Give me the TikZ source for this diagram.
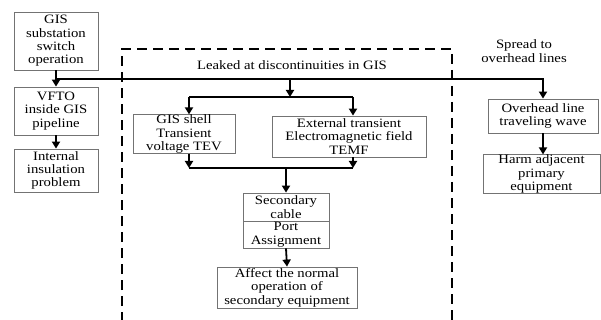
\documentclass[tikz,border=0pt]{standalone}
\usepackage{fontspec}
\setmainfont{Liberation Serif}[FakeStretch=1.15]
\usetikzlibrary{arrows.meta}
\begin{document}
\begin{tikzpicture}[x=1pt,y=-1pt,
  box/.style={draw=black!55, line width=0.8pt, align=center, inner sep=0pt, font=\fontsize{12.8}{13.4}\selectfont},
  conn/.style={line width=1.8pt},
  arr/.style={conn, -{Triangle[length=7pt,width=8pt]}},
  lbl/.style={align=center, font=\fontsize{12.8}{13.4}\selectfont}]
\useasboundingbox (0,0) rectangle (601,320);
\node[box, minimum width=84, minimum height=58] (b1) at (56,41) {GIS\\substation\\switch\\operation};
\node[box, minimum width=84, minimum height=48] (b2) at (56,111) {VFTO\\inside GIS\\pipeline};
\node[box, minimum width=84, minimum height=43] (b3) at (56,170.5) {Internal\\insulation\\problem};
\node[box, minimum width=102, minimum height=36] (tev) at (184,134) {GIS shell\\Transient\\voltage TEV};
\node[box, minimum width=154, minimum height=41] (temf) at (349,136.5) {External transient\\Electromagnetic field\\TEMF};
\node[box, minimum width=86, minimum height=28] (sec) at (286,207) {Secondary\\cable};
\node[box, minimum width=86, minimum height=27] (port) at (286,234.5) {Port\\Assignment};
\node[box, minimum width=140, minimum height=41] (aff) at (287,287.5) {Affect the normal\\operation of\\secondary equipment};
\node[box, minimum width=110, minimum height=34] (ohl) at (543,116) {Overhead line\\traveling wave};
\node[box, minimum width=117, minimum height=32] (harm) at (541.5,174) {Harm adjacent\\primary\\equipment};
\node[lbl] (leak) at (292,65) {Leaked at discontinuities in GIS};
\node[lbl] (spread) at (524,51) {Spread to\\overhead lines};
% dashed region
\draw[line width=1.6pt, dash pattern=on 10pt off 6pt] (122,322) -- (122,49) -- (452,49) -- (452,322);
% connectors
\coordinate (j0) at (56,79);
\coordinate (j1) at (290,79);
\coordinate (j2) at (290,97);
\coordinate (j3) at (189,97);
\coordinate (j4) at (353,97);
\coordinate (j5) at (189,168);
\coordinate (j6) at (353,168);
\coordinate (j7) at (286,168);
\draw[arr] (b1.south) -- (b2.north);
\draw[arr] (j0) -- (543,79) -- (ohl.north);
\draw[arr] (j1) -- (j2);
\draw[conn] (j3) -- (j4);
\draw[arr] (j3) -- (j3 |- tev.north);
\draw[arr] (j4) -- (j4 |- temf.north);
\draw[arr] (j5 |- tev.south) -- (j5);
\draw[arr] (j6 |- temf.south) -- (j6);
\draw[conn] (j5) -- (j6);
\draw[arr] (j7) -- (sec.north);
\draw[arr] (b2.south) -- (b3.north);
\draw[arr] (port.south) -- (aff.north);
\draw[arr] (ohl.south) -- (ohl.south |- harm.north);
\end{tikzpicture}
\end{document}
